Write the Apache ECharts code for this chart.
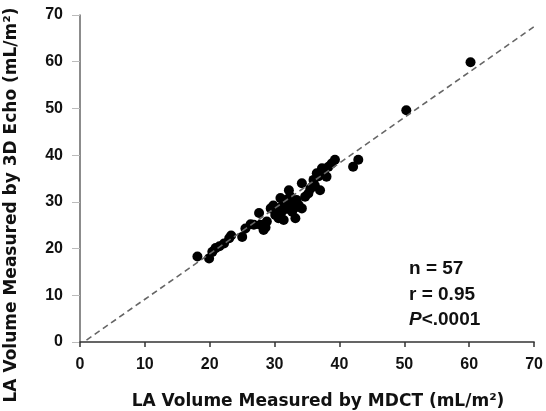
<!DOCTYPE html>
<html><head><meta charset="utf-8">
<script src="https://cdn.jsdelivr.net/npm/echarts@6/dist/echarts.min.js"></script>
<style>html,body{margin:0;padding:0;background:#fff}#c{width:546px;height:411px}</style>
</head><body><div id="c"></div>
<script>
const mdct = [18.1,19.9,20.4,20.9,21.5,22.2,23.3,25.0,25.5,26.3,26.8,27.6,27.8,28.3,28.6,28.8,29.4,30.1,30.6,30.9,31.1,31.1,31.4,31.7,31.9,32.2,32.2,32.4,32.7,33.2,33.4,33.7,33.2,34.2,34.2,34.7,35.2,35.5,36.0,36.2,36.5,36.8,37.0,37.3,37.6,38.0,38.3,38.8,39.3,42.1,42.9,50.3,60.2,23.0,29.8,30.2,35.8];
const echo3d = [18.3,17.9,19.3,20.1,20.5,21.1,22.8,22.5,24.3,25.2,25.1,27.6,25.1,24.0,24.5,25.8,28.6,27.2,26.5,30.8,27.9,29.0,26.1,30.4,28.5,32.5,29.7,31.2,27.9,26.5,30.4,29.3,28.8,34.0,28.6,31.1,31.8,32.8,34.7,33.5,36.1,35.5,32.5,37.2,36.3,35.4,37.5,38.2,39.0,37.5,39.0,49.6,59.9,22.2,29.2,28.0,33.2];
const fitX = [1, 70];
const fitY = [0.4, 67.5];
const tickValues = [0,10,20,30,40,50,60,70];
const xName = 'LA Volume Measured by MDCT (mL/m²)';
const yName = 'LA Volume Measured by 3D Echo (mL/m²)';
const statsLines = ['n = 57', 'r = 0.95', '{i|P}<.0001'];

const chart = echarts.init(document.getElementById('c'), null, {renderer:'canvas'});
const font = 'Liberation Sans';
const nameFont = 'bold 17px "DejaVu Sans"';
const statFont = 'bold 19px "Liberation Sans"';
chart.setOption({
  animation:false,
  grid:{left:80, right:9, top:15, bottom:69, containLabel:false},
  xAxis:{type:'value', min:tickValues[0], max:tickValues[tickValues.length-1], interval:10,
    axisLine:{lineStyle:{color:'#333', width:1.5}},
    axisTick:{show:true, length:5, lineStyle:{color:'#333', width:1.5}},
    axisLabel:{color:'#111', fontFamily:font, fontWeight:'bold', fontSize:16, margin:15},
    splitLine:{show:false}},
  yAxis:{type:'value', min:tickValues[0], max:tickValues[tickValues.length-1], interval:10,
    axisLine:{show:true, lineStyle:{color:'#666', width:1.5}},
    axisTick:{show:true, length:8, lineStyle:{color:'#bbb', width:1}},
    axisLabel:{color:'#111', fontFamily:font, fontWeight:'bold', fontSize:16, margin:17},
    splitLine:{show:false}},
  graphic:[
    {type:'text', x:318, y:402, style:{text:xName, font:nameFont, fill:'#111', align:'center', verticalAlign:'middle'}},
    {type:'text', x:12, y:205, rotation:Math.PI/2,
      style:{text:yName, font:nameFont, fill:'#111', align:'center', verticalAlign:'middle'}},
    {type:'text', x:409, y:269, style:{text:statsLines[0], font:statFont, fill:'#111', verticalAlign:'middle'}},
    {type:'text', x:409, y:295, style:{text:statsLines[1], font:statFont, fill:'#111', verticalAlign:'middle'}},
    {type:'text', x:409, y:320, style:{text:statsLines[2], font:statFont, fill:'#111', verticalAlign:'middle',
      rich:{i:{font:'italic bold 19px "Liberation Sans"', fill:'#111'}}}}
  ],
  series:[
    {type:'line', data:fitX.map((v,i)=>[v,fitY[i]]), symbol:'none', silent:true,
      lineStyle:{color:'#666', width:1.6, type:[6,4]}},
    {type:'scatter', data:mdct.map((v,i)=>[v,echo3d[i]]), symbol:'circle', symbolSize:10,
      itemStyle:{color:'#000', opacity:1}}
  ]
});
</script></body></html>
